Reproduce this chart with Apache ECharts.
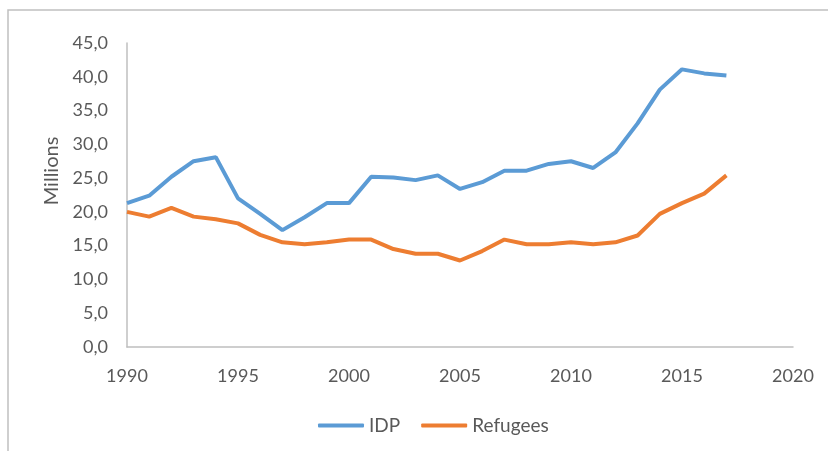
<!DOCTYPE html>
<html>
<head>
<meta charset="utf-8">
<script src="https://cdn.jsdelivr.net/npm/echarts@6/dist/echarts.min.js"></script>
<style>
html,body{margin:0;padding:0;background:#fff;}
#chart{width:828px;height:451px;}
</style>
</head>
<body>
<div id="chart"></div>
<script>
const years = [1990,1991,1992,1993,1994,1995,1996,1997,1998,1999,2000,2001,2002,2003,2004,2005,2006,2007,2008,2009,2010,2011,2012,2013,2014,2015,2016,2017];
const idp = [21.3,22.4,25.2,27.5,28.1,22.0,19.7,17.3,19.2,21.3,21.3,25.2,25.1,24.7,25.4,23.4,24.4,26.1,26.1,27.1,27.5,26.5,28.8,33.1,38.1,41.1,40.5,40.2];
const refugees = [20.0,19.3,20.6,19.3,18.9,18.3,16.6,15.5,15.2,15.5,15.9,15.9,14.5,13.8,13.8,12.8,14.2,15.9,15.2,15.2,15.5,15.2,15.5,16.5,19.7,21.3,22.7,25.4];
const seriesNames = ['IDP','Refugees'];
const colors = ['#5B9BD5','#ED7D31'];

const font = 'Lato, "Open Sans", sans-serif';
const chart = echarts.init(document.getElementById('chart'));
const pairs = arr => years.map((y,i)=>[y,arr[i]]);
chart.setOption({
  animation:false,
  graphic:[{type:'rect',shape:{x:8,y:10,width:900,height:600},style:{fill:'none',stroke:'#c0c0c0',lineWidth:1.5},silent:true}],
  grid:{left:127,right:35,top:43,bottom:104},
  legend:{
    data:seriesNames,top:411,left:313,itemWidth:46,itemHeight:4,itemGap:21,
    icon:'roundRect',
    textStyle:{fontFamily:font,fontSize:19,color:'#595959'}
  },
  xAxis:{type:'value',min:1990,max:2020,interval:5,
    axisLine:{lineStyle:{color:'#bfbfbf',width:1.5}},axisTick:{show:false},splitLine:{show:false},
    axisLabel:{fontFamily:font,fontSize:18,color:'#595959',margin:20,formatter:v=>String(v)}},
  yAxis:{type:'value',min:0,max:45,interval:5,name:'Millions',nameLocation:'middle',nameGap:59,
    nameTextStyle:{fontFamily:font,fontSize:20,color:'#595959',padding:[0,0,0,48]},
    axisLine:{show:true,lineStyle:{color:'#bfbfbf',width:1.5}},axisTick:{show:false},splitLine:{show:false},
    axisLabel:{fontFamily:font,fontSize:18,color:'#595959',margin:19,formatter:v=>v.toFixed(1).replace('.',',')}},
  series:[
    {name:seriesNames[0],type:'line',data:pairs(idp),symbol:'none',lineStyle:{color:colors[0],width:4},itemStyle:{color:colors[0]}},
    {name:seriesNames[1],type:'line',data:pairs(refugees),symbol:'none',lineStyle:{color:colors[1],width:4},itemStyle:{color:colors[1]}}
  ]
});
</script>
</body>
</html>
